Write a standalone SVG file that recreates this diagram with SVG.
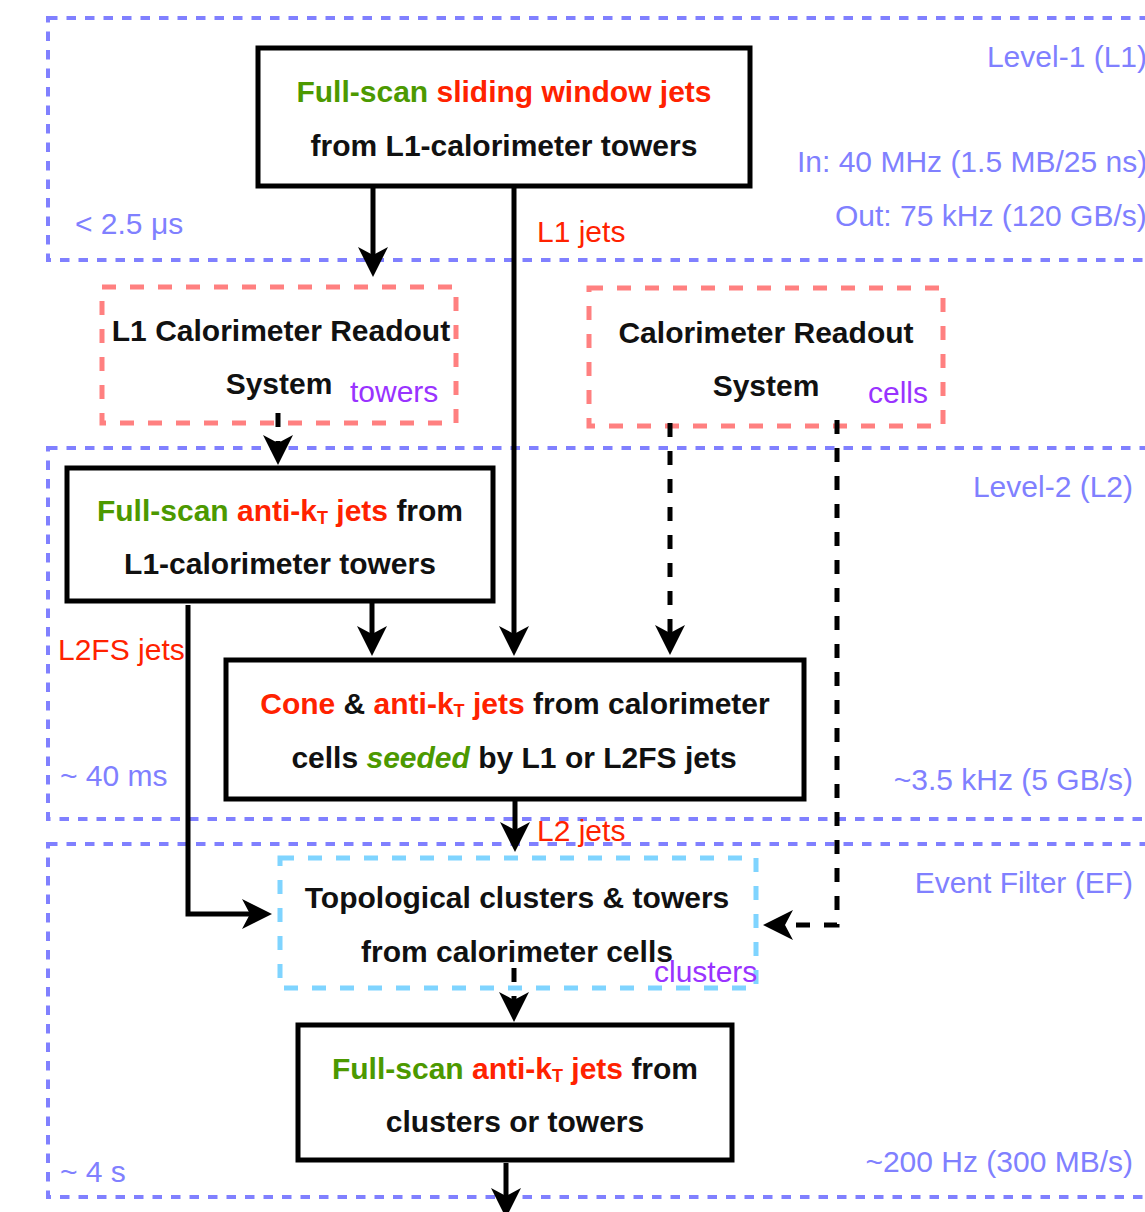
<svg xmlns="http://www.w3.org/2000/svg" width="1145" height="1212" viewBox="0 0 1145 1212">
<style>
.cont{fill:none;stroke:#8080ff;stroke-width:4;stroke-dasharray:9.5 9}
.box{fill:#fff;stroke:#000;stroke-width:5}
.rbox{fill:none;stroke:#ff8080;stroke-width:5;stroke-dasharray:14 14}
.cbox{fill:none;stroke:#7fd4ff;stroke-width:5;stroke-dasharray:14 14}
.ln{fill:none;stroke:#000;stroke-width:5}
.dl{fill:none;stroke:#000;stroke-width:5;stroke-dasharray:14 14}
text{font-family:"Liberation Sans",Arial,sans-serif;font-size:30px}
.b{font-weight:bold;fill:#111;text-anchor:middle}
.blue{fill:#8080ff}
.red{fill:#ff2200}
.pur{fill:#9933ff}
.g{fill:#4c9900}
.r{fill:#ff2200}
.sub{font-size:18px}
</style>
<defs>
<marker id="arr" viewBox="0 0 30 30" refX="8" refY="15" markerWidth="30" markerHeight="30" markerUnits="userSpaceOnUse" orient="auto"><path d="M0,0 L30,15 L0,30 L8,15 Z" fill="#000"/></marker>
</defs>
<g id="containers">
<rect id="level1" class="cont" x="48" y="18" width="1120" height="242"/>
<rect id="level2" class="cont" x="48" y="448" width="1120" height="371"/>
<rect id="ef" class="cont" x="48" y="844" width="1120" height="353"/>
</g>
<g id="n1"><rect class="box" x="258" y="48" width="492" height="138"/>
<text class="b" x="504" y="102"><tspan class="g">Full-scan</tspan> <tspan class="r">sliding window jets</tspan></text>
<text class="b" x="504" y="156">from L1-calorimeter towers</text></g>
<g id="n2"><rect class="rbox" x="102" y="287" width="354" height="136"/>
<text class="b" x="281" y="341">L1 Calorimeter Readout</text>
<text class="b" x="279" y="394">System</text></g>
<g id="n3"><rect class="rbox" x="589" y="288" width="354" height="138"/>
<text class="b" x="766" y="343">Calorimeter Readout</text>
<text class="b" x="766" y="396">System</text></g>
<g id="n4"><rect class="box" x="67" y="468" width="426" height="133"/>
<text class="b" x="280" y="521"><tspan class="g">Full-scan</tspan> <tspan class="r">anti-k</tspan><tspan class="r sub" dy="3">T</tspan><tspan class="r" dy="-3"> jets</tspan> from</text>
<text class="b" x="280" y="574">L1-calorimeter towers</text></g>
<g id="n5"><rect class="box" x="226" y="660" width="578" height="139"/>
<text class="b" x="515" y="714"><tspan class="r">Cone</tspan> &amp; <tspan class="r">anti-k</tspan><tspan class="r sub" dy="3">T</tspan><tspan class="r" dy="-3"> jets</tspan> from calorimeter</text>
<text class="b" x="514" y="768">cells <tspan class="g" font-style="italic">seeded</tspan> by L1 or L2FS jets</text></g>
<g id="n6"><rect class="cbox" x="280" y="858" width="476" height="130"/>
<text class="b" x="517" y="908">Topological clusters &amp; towers</text>
<text class="b" x="517" y="962">from calorimeter cells</text></g>
<g id="n7"><rect class="box" x="298" y="1025" width="434" height="135"/>
<text class="b" x="515" y="1079"><tspan class="g">Full-scan</tspan> <tspan class="r">anti-k</tspan><tspan class="r sub" dy="3">T</tspan><tspan class="r" dy="-3"> jets</tspan> from</text>
<text class="b" x="515" y="1132">clusters or towers</text></g>
<g id="connectors">
<path class="ln" d="M373,188 V255" marker-end="url(#arr)"/>
<path class="ln" d="M514,188 V634" marker-end="url(#arr)"/>
<path class="dl" d="M278,413 V443" marker-end="url(#arr)"/>
<path class="dl" d="M670,423 V633" marker-end="url(#arr)"/>
<path class="dl" d="M837,420 V925 H785" marker-end="url(#arr)"/>
<path class="ln" d="M372,603 V634" marker-end="url(#arr)"/>
<path class="ln" d="M188,605 V914 H250" marker-end="url(#arr)"/>
<path class="ln" d="M515,801 V830" marker-end="url(#arr)"/>
<path class="dl" d="M514,968 V1000" marker-end="url(#arr)"/>
<path class="ln" d="M506,1163 V1196" marker-end="url(#arr)"/>
</g>
<g id="labels">
<text class="blue" x="1147" y="67" text-anchor="end">Level-1 (L1)</text>
<text class="blue" x="797" y="172">In: 40 MHz (1.5 MB/25 ns)</text>
<text class="blue" x="835" y="226">Out: 75 kHz (120 GB/s)</text>
<text class="blue" x="75" y="234">&lt; 2.5 μs</text>
<text class="blue" x="1133" y="497" text-anchor="end">Level-2 (L2)</text>
<text class="blue" x="1133" y="790" text-anchor="end">~3.5 kHz (5 GB/s)</text>
<text class="blue" x="60" y="786">~ 40 ms</text>
<text class="blue" x="1133" y="893" text-anchor="end">Event Filter (EF)</text>
<text class="blue" x="1133" y="1172" text-anchor="end">~200 Hz (300 MB/s)</text>
<text class="blue" x="60" y="1182">~ 4 s</text>
<text class="red" x="537" y="242">L1 jets</text>
<text class="red" x="58" y="660">L2FS jets</text>
<text class="red" x="537" y="841">L2 jets</text>
<text class="pur" x="350" y="402">towers</text>
<text class="pur" x="868" y="403">cells</text>
<text class="pur" x="654" y="982">clusters</text>
</g>
</svg>
